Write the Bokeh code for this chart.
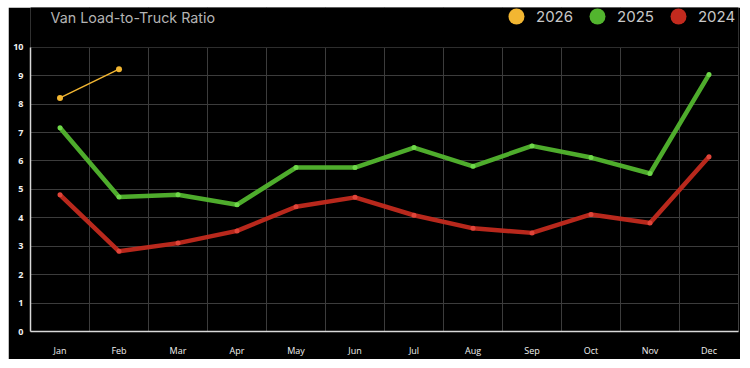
from bokeh.plotting import figure
from bokeh.layouts import column, row
from bokeh.models import (Legend, LegendItem, Label, FixedTicker, Range1d,
                          BoxAnnotation, Spacer)
from bokeh.embed import file_html
from bokeh.resources import INLINE

months = ["Jan", "Feb", "Mar", "Apr", "May", "Jun", "Jul", "Aug", "Sep", "Oct", "Nov", "Dec"]
v2026 = [8.22, 9.23]
v2025 = [7.17, 4.73, 4.81, 4.46, 5.77, 5.77, 6.47, 5.81, 6.53, 6.12, 5.56, 9.04]
v2024 = [4.81, 2.82, 3.11, 3.54, 4.39, 4.72, 4.09, 3.63, 3.47, 4.12, 3.82, 6.15]
yticks = list(range(0, 11))

C26, C25, C24 = "#f2b632", "#52b52e", "#c22a1e"

p = figure(width=732, height=352, output_backend="svg", toolbar_location=None,
           x_range=Range1d(-0.5, 11.5), y_range=Range1d(0, 11.4),
           min_border_left=22, min_border_right=2, min_border_top=0, min_border_bottom=27)
p.background_fill_color = "#000000"
p.border_fill_color = "#000000"
p.outline_line_color = None

# grid
p.xgrid.ticker = FixedTicker(ticks=[i + 0.5 for i in range(11)])
p.ygrid.ticker = FixedTicker(ticks=yticks)
p.xgrid.grid_line_color = "#3c3c3c"
p.ygrid.grid_line_color = "#3c3c3c"

# cover header area above 10
p.add_layout(BoxAnnotation(bottom=10, fill_color="#000000", fill_alpha=1,
                           line_color=None, level="underlay"))

xs = list(range(len(months)))

p.line(xs, v2024, line_color=C24, line_width=4.5, line_alpha=0.95)
p.scatter(xs, v2024, size=5, fill_color="#e0453a", line_color=None)
p.line(xs, v2025, line_color=C25, line_width=4.5, line_alpha=0.95)
p.scatter(xs, v2025, size=5, fill_color="#6fd84a", line_color=None)
p.line(xs[:len(v2026)], v2026, line_color=C26, line_width=1.5)
p.scatter(xs[:len(v2026)], v2026, size=6, fill_color=C26, line_color=None)

# legend markers (one point each, placed outside the visible range)
d26 = p.scatter([-5], [-5], size=16, marker="circle", fill_color=C26, line_color=None)
d25 = p.scatter([-5], [-5], size=16, marker="circle", fill_color=C25, line_color=None)
d24 = p.scatter([-5], [-5], size=16, marker="circle", fill_color=C24, line_color=None)
legend = Legend(items=[LegendItem(label="2026", renderers=[d26]),
                       LegendItem(label="2025", renderers=[d25]),
                       LegendItem(label="2024", renderers=[d24])],
                orientation="horizontal", location=(466, 295),
                background_fill_alpha=0, border_line_color=None,
                label_text_color="#c8c8c8", label_text_font="Inter",
                label_text_font_size="15px", glyph_width=40, glyph_height=40,
                spacing=4, label_standoff=0, padding=0, margin=0)
p.add_layout(legend, "center")

title = Label(x=20, y=314, x_units="screen", y_units="screen",
              text="Van Load-to-Truck Ratio", text_color="#b4b4b4",
              text_font="Inter", text_font_size="14.3px", text_baseline="middle")
p.add_layout(title)

# axes
p.xaxis.ticker = FixedTicker(ticks=xs)
p.xaxis.major_label_overrides = {i: m for i, m in enumerate(months)}
p.yaxis.ticker = FixedTicker(ticks=yticks)
p.yaxis.bounds = (0, 10)
for ax in (p.xaxis[0], p.yaxis[0]):
    ax.axis_line_color = "#d8d8d8"
    ax.axis_line_width = 1.5
    ax.major_tick_line_color = None
    ax.minor_tick_line_color = None
    ax.major_tick_out = 0
    ax.major_tick_in = 0
    ax.minor_tick_out = 0
    ax.minor_tick_in = 0
    ax.major_label_text_color = "#f0f0f0"
    ax.major_label_text_font = "Open Sans"
p.xaxis.major_label_text_font_size = "9px"
p.xaxis.major_label_standoff = 12
p.yaxis.major_label_text_font_size = "9px"
p.yaxis.major_label_text_font_style = "bold"
p.yaxis.major_label_standoff = 7

page = column(Spacer(height=7), row(Spacer(width=8), p))
open("out.html", "w").write(file_html(page, INLINE))
